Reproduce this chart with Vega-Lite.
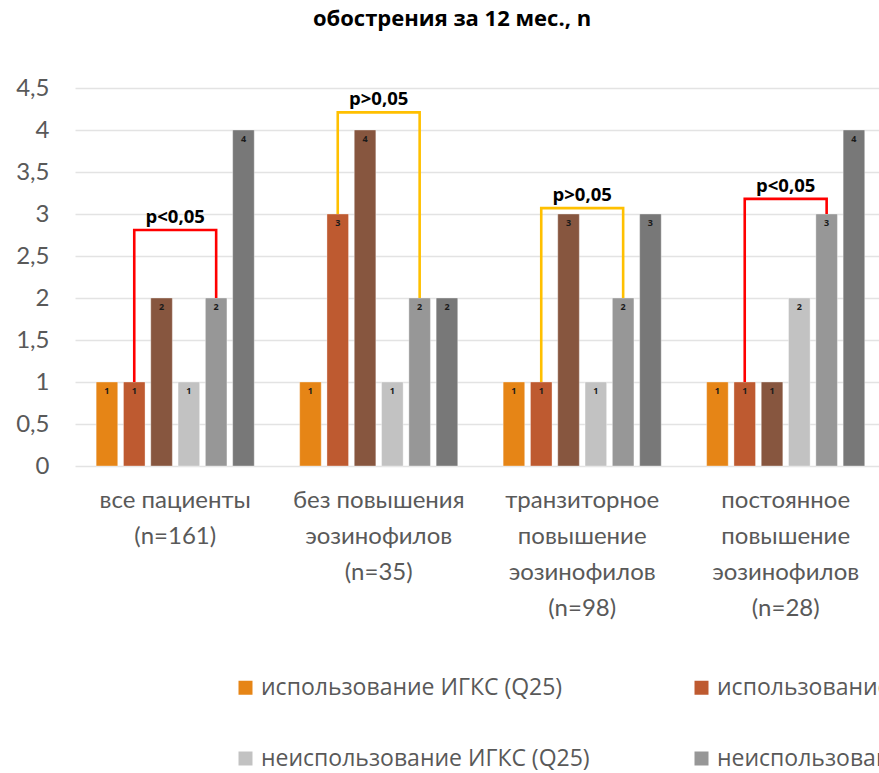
{
  "$schema": "https://vega.github.io/schema/vega-lite/v6.json",
  "autosize": {"type": "none"},
  "width": 804,
  "height": 378,
  "padding": {"left": 75, "top": 88, "right": 0, "bottom": 307},
  "background": "white",
  "title": {
    "text": "обострения за 12 мес., n",
    "font": "Open Sans",
    "fontSize": 22,
    "fontWeight": "bold",
    "color": "#000000",
    "anchor": "middle",
    "frame": "group",
    "dx": -25,
    "offset": 45
  },
  "config": {
    "view": {"stroke": null},
    "axis": {"labelFont": "Lato", "labelColor": "#595959"}
  },
  "datasets": {
    "bars": [
      {"grp": "все пациенты|(n=161)", "series": "использование ИГКС (Q25)", "n": 1},
      {"grp": "все пациенты|(n=161)", "series": "использование ИГКС (медиана)", "n": 1},
      {"grp": "все пациенты|(n=161)", "series": "использование ИГКС (Q75)", "n": 2},
      {"grp": "все пациенты|(n=161)", "series": "неиспользование ИГКС (Q25)", "n": 1},
      {"grp": "все пациенты|(n=161)", "series": "неиспользование ИГКС (медиана)", "n": 2},
      {"grp": "все пациенты|(n=161)", "series": "неиспользование ИГКС (Q75)", "n": 4},
      {"grp": "без повышения|эозинофилов|(n=35)", "series": "использование ИГКС (Q25)", "n": 1},
      {"grp": "без повышения|эозинофилов|(n=35)", "series": "использование ИГКС (медиана)", "n": 3},
      {"grp": "без повышения|эозинофилов|(n=35)", "series": "использование ИГКС (Q75)", "n": 4},
      {"grp": "без повышения|эозинофилов|(n=35)", "series": "неиспользование ИГКС (Q25)", "n": 1},
      {"grp": "без повышения|эозинофилов|(n=35)", "series": "неиспользование ИГКС (медиана)", "n": 2},
      {"grp": "без повышения|эозинофилов|(n=35)", "series": "неиспользование ИГКС (Q75)", "n": 2},
      {"grp": "транзиторное|повышение|эозинофилов|(n=98)", "series": "использование ИГКС (Q25)", "n": 1},
      {"grp": "транзиторное|повышение|эозинофилов|(n=98)", "series": "использование ИГКС (медиана)", "n": 1},
      {"grp": "транзиторное|повышение|эозинофилов|(n=98)", "series": "использование ИГКС (Q75)", "n": 3},
      {"grp": "транзиторное|повышение|эозинофилов|(n=98)", "series": "неиспользование ИГКС (Q25)", "n": 1},
      {"grp": "транзиторное|повышение|эозинофилов|(n=98)", "series": "неиспользование ИГКС (медиана)", "n": 2},
      {"grp": "транзиторное|повышение|эозинофилов|(n=98)", "series": "неиспользование ИГКС (Q75)", "n": 3},
      {"grp": "постоянное|повышение|эозинофилов|(n=28)", "series": "использование ИГКС (Q25)", "n": 1},
      {"grp": "постоянное|повышение|эозинофилов|(n=28)", "series": "использование ИГКС (медиана)", "n": 1},
      {"grp": "постоянное|повышение|эозинофилов|(n=28)", "series": "использование ИГКС (Q75)", "n": 1},
      {"grp": "постоянное|повышение|эозинофилов|(n=28)", "series": "неиспользование ИГКС (Q25)", "n": 2},
      {"grp": "постоянное|повышение|эозинофилов|(n=28)", "series": "неиспользование ИГКС (медиана)", "n": 3},
      {"grp": "постоянное|повышение|эозинофилов|(n=28)", "series": "неиспользование ИГКС (Q75)", "n": 4}
    ],
    "brackets": [
      {"grp": "все пациенты|(n=161)", "series": "использование ИГКС (медиана)", "level": 1, "step": 1, "p": "p<0,05"},
      {"grp": "все пациенты|(n=161)", "series": "использование ИГКС (медиана)", "level": 2.81, "step": 2, "p": "p<0,05"},
      {"grp": "все пациенты|(n=161)", "series": "неиспользование ИГКС (медиана)", "level": 2.81, "step": 3, "p": "p<0,05"},
      {"grp": "все пациенты|(n=161)", "series": "неиспользование ИГКС (медиана)", "level": 2, "step": 4, "p": "p<0,05"},
      {"grp": "без повышения|эозинофилов|(n=35)", "series": "использование ИГКС (медиана)", "level": 3, "step": 1, "p": "p>0,05"},
      {"grp": "без повышения|эозинофилов|(n=35)", "series": "использование ИГКС (медиана)", "level": 4.21, "step": 2, "p": "p>0,05"},
      {"grp": "без повышения|эозинофилов|(n=35)", "series": "неиспользование ИГКС (медиана)", "level": 4.21, "step": 3, "p": "p>0,05"},
      {"grp": "без повышения|эозинофилов|(n=35)", "series": "неиспользование ИГКС (медиана)", "level": 2, "step": 4, "p": "p>0,05"},
      {"grp": "транзиторное|повышение|эозинофилов|(n=98)", "series": "использование ИГКС (медиана)", "level": 1, "step": 1, "p": "p>0,05"},
      {"grp": "транзиторное|повышение|эозинофилов|(n=98)", "series": "использование ИГКС (медиана)", "level": 3.07, "step": 2, "p": "p>0,05"},
      {"grp": "транзиторное|повышение|эозинофилов|(n=98)", "series": "неиспользование ИГКС (медиана)", "level": 3.07, "step": 3, "p": "p>0,05"},
      {"grp": "транзиторное|повышение|эозинофилов|(n=98)", "series": "неиспользование ИГКС (медиана)", "level": 2, "step": 4, "p": "p>0,05"},
      {"grp": "постоянное|повышение|эозинофилов|(n=28)", "series": "использование ИГКС (медиана)", "level": 1, "step": 1, "p": "p<0,05"},
      {"grp": "постоянное|повышение|эозинофилов|(n=28)", "series": "использование ИГКС (медиана)", "level": 3.18, "step": 2, "p": "p<0,05"},
      {"grp": "постоянное|повышение|эозинофилов|(n=28)", "series": "неиспользование ИГКС (медиана)", "level": 3.18, "step": 3, "p": "p<0,05"},
      {"grp": "постоянное|повышение|эозинофилов|(n=28)", "series": "неиспользование ИГКС (медиана)", "level": 3, "step": 4, "p": "p<0,05"}
    ]
  },
  "layer": [
    {
      "data": {"name": "bars"},
      "mark": {"type": "bar", "stroke": "white", "strokeOpacity": 0.35, "strokeWidth": 1},
      "encoding": {
        "x": {
          "field": "grp",
          "type": "nominal",
          "scale": {
            "domain": ["все пациенты|(n=161)", "без повышения|эозинофилов|(n=35)", "транзиторное|повышение|эозинофилов|(n=98)", "постоянное|повышение|эозинофилов|(n=28)"],
            "paddingInner": 0.195,
            "paddingOuter": 0.073,
            "align": 0.616
          },
          "axis": {
            "title": null,
            "labelAngle": 0,
            "labelExpr": "split(datum.label, '|')",
            "labelFontSize": 24,
            "labelLineHeight": 36,
            "labelPadding": 22,
            "labelBaseline": "top",
            "labelLimit": 300,
            "domain": false,
            "ticks": false
          }
        },
        "xOffset": {
          "field": "series",
          "type": "nominal",
          "scale": {
            "domain": ["использование ИГКС (Q25)", "использование ИГКС (медиана)", "использование ИГКС (Q75)", "неиспользование ИГКС (Q25)", "неиспользование ИГКС (медиана)", "неиспользование ИГКС (Q75)"],
            "paddingInner": 0.21,
            "paddingOuter": 0.105
          }
        },
        "y": {
          "field": "n",
          "type": "quantitative",
          "scale": {"domain": [0, 4.5], "nice": false},
          "axis": {
            "title": null,
            "values": [0, 0.5, 1, 1.5, 2, 2.5, 3, 3.5, 4, 4.5],
            "labelExpr": "replace(toString(datum.value), '.', ',')",
            "labelFontSize": 24,
            "labelPadding": 26,
            "domain": false,
            "ticks": false,
            "grid": true,
            "gridColor": "#e3e3e3",
            "gridWidth": 1.3
          }
        },
        "color": {
          "field": "series",
          "type": "nominal",
          "scale": {
            "domain": ["использование ИГКС (Q25)", "использование ИГКС (медиана)", "использование ИГКС (Q75)", "неиспользование ИГКС (Q25)", "неиспользование ИГКС (медиана)", "неиспользование ИГКС (Q75)"],
            "range": ["#E68516", "#BE5A30", "#87563F", "#C2C2C2", "#979797", "#787878"]
          },
          "legend": {
            "title": null,
            "orient": "none",
            "legendX": 159,
            "legendY": 588,
            "direction": "horizontal",
            "columns": 3,
            "columnPadding": 100,
            "rowPadding": 47,
            "symbolType": "square",
            "symbolSize": 196,
            "symbolStrokeWidth": 0,
            "labelFont": "Open Sans",
            "labelFontSize": 23,
            "labelColor": "#595959",
            "labelOffset": 4,
            "labelLimit": 1000
          }
        }
      }
    },
    {
      "data": {"name": "bars"},
      "mark": {"type": "text", "font": "Open Sans", "fontSize": 9, "fontWeight": "bold", "color": "#1a1a1a", "baseline": "middle", "dy": 9},
      "encoding": {
        "x": {"field": "grp", "type": "nominal"},
        "xOffset": {"field": "series", "type": "nominal"},
        "y": {"field": "n", "type": "quantitative"},
        "text": {"field": "n", "type": "quantitative"}
      }
    },
    {
      "data": {"name": "brackets"},
      "mark": {"type": "line", "strokeWidth": 2.6, "interpolate": "linear"},
      "encoding": {
        "x": {"field": "grp", "type": "nominal"},
        "xOffset": {"field": "series", "type": "nominal"},
        "y": {"field": "level", "type": "quantitative"},
        "order": {"field": "step", "type": "quantitative"},
        "detail": {"field": "grp", "type": "nominal"},
        "stroke": {
          "field": "p",
          "type": "nominal",
          "scale": {"domain": ["p<0,05", "p>0,05"], "range": ["#FF0000", "#FFC000"]},
          "legend": null
        }
      }
    },
    {
      "data": {"name": "brackets"},
      "transform": [{"filter": "datum.step == 2"}],
      "mark": {"type": "text", "font": "Open Sans", "fontSize": 18.5, "fontWeight": "bold", "color": "#000000", "baseline": "bottom", "dy": -3},
      "encoding": {
        "x": {"field": "grp", "type": "nominal"},
        "y": {"field": "level", "type": "quantitative"},
        "text": {"field": "p", "type": "nominal"}
      }
    }
  ]
}
